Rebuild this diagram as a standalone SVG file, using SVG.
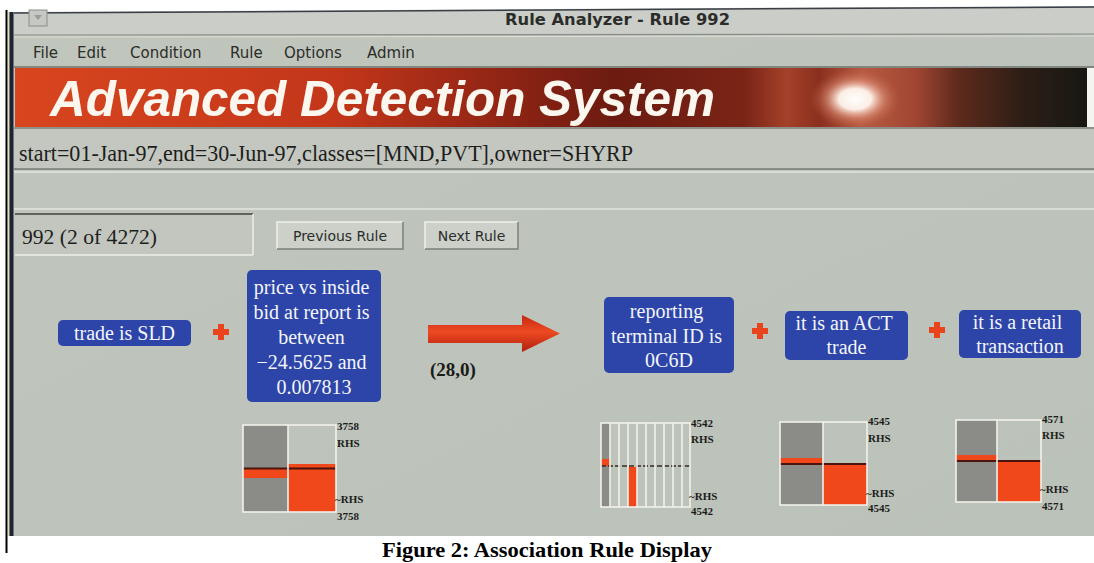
<svg xmlns="http://www.w3.org/2000/svg" width="1094" height="563" viewBox="0 0 1094 563">
  <defs>
    <style>
      .ui { font-family: "DejaVu Sans", "Liberation Sans", sans-serif; fill: #2b2d2a; }
      .cond { fill: #2d45a8; }
      .condText { font-family: "Liberation Serif", "Times New Roman", serif; font-size: 20px; fill: #f4f5fa; text-anchor: middle; }
      .lbl { font-family: "Liberation Serif", "Times New Roman", serif; font-size: 11px; font-weight: bold; fill: #1c1c1a; }
      .frame { fill: none; stroke: #f2f2ea; stroke-width: 1.6; }
      .gray { fill: #8b8c88; }
      .hit { fill: #f0481a; }
      .split { stroke: #4a140c; stroke-width: 2; }
      .plusSign { fill: #e9441c; }
    </style>
    <linearGradient id="bannerGrad" x1="0" y1="0" x2="1" y2="0">
      <stop offset="0" stop-color="#d8461f"/>
      <stop offset="0.3" stop-color="#c3361a"/>
      <stop offset="0.46" stop-color="#8e2414"/>
      <stop offset="0.56" stop-color="#6c1b11"/>
      <stop offset="0.68" stop-color="#7a2416"/>
      <stop offset="0.72" stop-color="#a4412a"/>
      <stop offset="0.75" stop-color="#8a2f1e"/>
      <stop offset="0.79" stop-color="#b85a42"/>
      <stop offset="0.84" stop-color="#a04632"/>
      <stop offset="0.88" stop-color="#5e2a1c"/>
      <stop offset="0.94" stop-color="#2c1e16"/>
      <stop offset="1" stop-color="#181712"/>
    </linearGradient>
    <radialGradient id="flare" cx="0.5" cy="0.5" r="0.5">
      <stop offset="0" stop-color="#ffffff"/>
      <stop offset="0.35" stop-color="#fff6ee" stop-opacity="0.95"/>
      <stop offset="0.65" stop-color="#e8a088" stop-opacity="0.45"/>
      <stop offset="1" stop-color="#c06040" stop-opacity="0"/>
    </radialGradient>
    <linearGradient id="arrowGrad" x1="0" y1="0" x2="0" y2="1">
      <stop offset="0" stop-color="#c42812"/>
      <stop offset="0.45" stop-color="#ee4a22"/>
      <stop offset="1" stop-color="#b0200e"/>
    </linearGradient>
    <linearGradient id="screenGrad" x1="0" y1="0" x2="1" y2="1">
      <stop offset="0" stop-color="#c1c6bd"/>
      <stop offset="1" stop-color="#bbc2b9"/>
    </linearGradient>
    <g id="plus">
      <rect x="-8" y="-3" width="16" height="6" class="plusSign"/>
      <rect x="-3" y="-8" width="6" height="16" class="plusSign"/>
    </g>
  </defs>

  <!-- paper -->
  <rect width="1094" height="563" fill="#ffffff"/>
  <line x1="6.5" y1="10" x2="6.5" y2="553" stroke="#000" stroke-width="2"/>

  <!-- screen photo -->
  <g id="screen">
    <polygon points="8,12 1094,6 1094,536 8,536" fill="url(#screenGrad)"/>
    <rect x="8" y="12" width="1.5" height="524" fill="#e6e2b8"/>
    <rect x="9.5" y="12" width="4" height="524" fill="#1e2438"/>

    <!-- title bar -->
    <polygon points="14,13 1094,7 1094,34 14,35" fill="#cbcec8"/>
    <line x1="14" y1="13" x2="1094" y2="7" stroke="#3a3e46" stroke-width="1.5"/>
    <rect x="29" y="10" width="18" height="16" fill="#c6c9c3" stroke="#8a8d88" stroke-width="1"/>
    <path d="M34 15 L42 15 L38 20 Z" fill="#9a9d98"/>
    <text x="505" y="25" class="ui" font-size="15" font-weight="bold" textLength="225" lengthAdjust="spacingAndGlyphs">Rule Analyzer - Rule 992</text>
    <line x1="14" y1="35" x2="1094" y2="34" stroke="#8a8e88" stroke-width="1.2"/>
    <line x1="14" y1="37" x2="1094" y2="36" stroke="#dcdfd8" stroke-width="1"/>

    <!-- menu bar -->
    <g id="menu" class="ui" font-size="15">
      <text x="33" y="58">File</text>
      <text x="77" y="58">Edit</text>
      <text x="130" y="58">Condition</text>
      <text x="230" y="58">Rule</text>
      <text x="284" y="58">Options</text>
      <text x="367" y="58">Admin</text>
    </g>
    <line x1="14" y1="67" x2="1094" y2="67" stroke="#6e726c" stroke-width="1.5"/>

    <!-- banner -->
    <g id="banner">
      <rect x="15" y="68" width="1072" height="59" fill="url(#bannerGrad)"/>
      <ellipse cx="855" cy="99" rx="46" ry="30" fill="url(#flare)"/>
      <rect x="1087" y="68" width="7" height="59" fill="#f4f4f0"/>
      <text x="50" y="116" font-family="Liberation Sans, Arial, sans-serif" font-weight="bold" font-style="italic" font-size="50" fill="#fbf7ef" textLength="665" lengthAdjust="spacingAndGlyphs">Advanced Detection System</text>
    </g>
    <line x1="14" y1="128" x2="1094" y2="128" stroke="#7c807a" stroke-width="1.5"/>

    <!-- query field -->
    <rect x="14" y="130" width="1080" height="39" fill="#c3c7bf"/>
    <text x="19" y="161" font-family="Liberation Serif, Times New Roman, serif" font-size="23" fill="#1e1e1c" textLength="614" lengthAdjust="spacingAndGlyphs">start=01-Jan-97,end=30-Jun-97,classes=[MND,PVT],owner=SHYRP</text>
    <line x1="14" y1="169" x2="1094" y2="169" stroke="#757a72" stroke-width="1.5"/>
    <line x1="14" y1="172" x2="1094" y2="172" stroke="#e2e4de" stroke-width="1.5"/>

    <!-- empty message field -->
    <line x1="14" y1="209" x2="1094" y2="209" stroke="#e2e4de" stroke-width="1.5"/>

    <!-- rule counter and navigation -->
    <g id="counter">
      <rect x="15" y="214" width="238" height="41" fill="#c2c6be"/>
      <line x1="15" y1="214" x2="253" y2="214" stroke="#5e625c" stroke-width="2"/>
      <line x1="15" y1="255" x2="253" y2="255" stroke="#eceee8" stroke-width="1.5"/>
      <line x1="253" y1="214" x2="253" y2="255" stroke="#eceee8" stroke-width="1.5"/>
      <text x="22" y="244" font-family="Liberation Serif, Times New Roman, serif" font-size="21" fill="#1e1e1c" textLength="135" lengthAdjust="spacingAndGlyphs">992 (2 of 4272)</text>
    </g>
    <g id="btn-previous">
      <rect x="277" y="222" width="126" height="27" fill="#ccd0c9"/>
      <path d="M277 249 V222 H403" fill="none" stroke="#eef0ea" stroke-width="1.5"/>
      <path d="M277 249 H403 V222" fill="none" stroke="#7c807a" stroke-width="1.5"/>
      <text x="340" y="241" class="ui" font-size="14" text-anchor="middle">Previous Rule</text>
    </g>
    <g id="btn-next">
      <rect x="425" y="222" width="93" height="27" fill="#ccd0c9"/>
      <path d="M425 249 V222 H518" fill="none" stroke="#eef0ea" stroke-width="1.5"/>
      <path d="M425 249 H518 V222" fill="none" stroke="#7c807a" stroke-width="1.5"/>
      <text x="471.5" y="241" class="ui" font-size="14" text-anchor="middle">Next Rule</text>
    </g>
  </g>

  <!-- left-hand side conditions -->
  <g id="cond-trade-sld">
    <rect x="58" y="320" width="133" height="26" rx="5" class="cond"/>
    <text x="124.5" y="340" class="condText" font-size="21">trade is SLD</text>
  </g>
  <g id="plus-1"><use href="#plus" x="221" y="332"/></g>
  <g id="cond-price-bid">
    <rect x="247" y="270" width="134" height="132" rx="5" class="cond"/>
    <text class="condText">
      <tspan x="314" y="294">price vs inside</tspan>
      <tspan x="314" y="319">bid at report is</tspan>
      <tspan x="314" y="344">between</tspan>
      <tspan x="314" y="369">−24.5625 and</tspan>
      <tspan x="314" y="394">0.007813</tspan>
    </text>
  </g>

  <!-- implication arrow with its counts -->
  <g id="connectors">
    <polygon points="428,325 522,325 522,315 560,333.5 522,352 522,343 428,343" fill="url(#arrowGrad)"/>
    <text x="430" y="376" font-family="Liberation Serif, Times New Roman, serif" font-size="19" font-weight="bold" fill="#1a1a18">(28,0)</text>
  </g>

  <!-- right-hand side conditions -->
  <g id="cond-terminal">
    <rect x="604" y="297" width="130" height="76" rx="5" class="cond"/>
    <text class="condText">
      <tspan x="669" y="318">reporting</tspan>
      <tspan x="669" y="343">terminal ID is</tspan>
      <tspan x="669" y="367">0C6D</tspan>
    </text>
  </g>
  <g id="plus-2"><use href="#plus" x="760" y="331"/></g>
  <g id="cond-act">
    <rect x="785" y="311" width="123" height="49" rx="5" class="cond"/>
    <text class="condText">
      <tspan x="846.5" y="330">it is an ACT</tspan>
      <tspan x="846.5" y="354">trade</tspan>
    </text>
  </g>
  <g id="plus-3"><use href="#plus" x="937" y="330"/></g>
  <g id="cond-retail">
    <rect x="959" y="310" width="122" height="48" rx="5" class="cond"/>
    <text class="condText">
      <tspan x="1020" y="329">it is a retail</tspan>
      <tspan x="1020" y="353">transaction</tspan>
    </text>
  </g>

  <!-- contingency charts -->
  <g id="chart-1">
    <rect x="243" y="425" width="45" height="87" class="gray"/>
    <rect x="288" y="464" width="48" height="48" class="hit"/>
    <rect x="243" y="468" width="45" height="10" class="hit"/>
    <line x1="243" y1="468.5" x2="336" y2="468.5" class="split"/>
    <rect x="243" y="425" width="93" height="87" class="frame"/>
    <line x1="288" y1="425" x2="288" y2="512" class="frame"/>
    <text x="337" y="430" class="lbl">3758</text>
    <text x="337" y="447" class="lbl">RHS</text>
    <text x="335" y="503" class="lbl">~RHS</text>
    <text x="337" y="520" class="lbl">3758</text>
  </g>

  <g id="chart-2">
    <rect x="601" y="423" width="9" height="84" class="gray"/>
    <rect x="601" y="459" width="9" height="7" class="hit"/>
    <rect x="628" y="467" width="9" height="40" class="hit"/>
    <line x1="601" y1="466" x2="690" y2="466" stroke="#3a2a22" stroke-width="1.5" stroke-dasharray="5,2"/>
    <rect x="601" y="423" width="89" height="84" class="frame"/>
    <g class="frame">
      <line x1="610" y1="423" x2="610" y2="507"/>
      <line x1="619" y1="423" x2="619" y2="507"/>
      <line x1="628" y1="423" x2="628" y2="507"/>
      <line x1="637" y1="423" x2="637" y2="507"/>
      <line x1="646" y1="423" x2="646" y2="507"/>
      <line x1="655" y1="423" x2="655" y2="507"/>
      <line x1="664" y1="423" x2="664" y2="507"/>
      <line x1="673" y1="423" x2="673" y2="507"/>
      <line x1="682" y1="423" x2="682" y2="507"/>
    </g>
    <text x="691" y="427" class="lbl">4542</text>
    <text x="691" y="443" class="lbl">RHS</text>
    <text x="689" y="500" class="lbl">~RHS</text>
    <text x="691" y="515" class="lbl">4542</text>
  </g>

  <g id="chart-3">
    <rect x="780" y="422" width="43" height="83" class="gray"/>
    <rect x="823" y="464" width="44" height="41" class="hit"/>
    <rect x="780" y="458" width="43" height="6" class="hit"/>
    <line x1="780" y1="464" x2="867" y2="464" class="split"/>
    <rect x="780" y="422" width="87" height="83" class="frame"/>
    <line x1="823" y1="422" x2="823" y2="505" class="frame"/>
    <text x="868" y="425" class="lbl">4545</text>
    <text x="868" y="442" class="lbl">RHS</text>
    <text x="866" y="497" class="lbl">~RHS</text>
    <text x="868" y="512" class="lbl">4545</text>
  </g>

  <g id="chart-4">
    <rect x="956" y="420" width="41" height="82" class="gray"/>
    <rect x="997" y="461" width="44" height="41" class="hit"/>
    <rect x="956" y="455" width="41" height="6" class="hit"/>
    <line x1="956" y1="461" x2="1041" y2="461" class="split"/>
    <rect x="956" y="420" width="85" height="82" class="frame"/>
    <line x1="997" y1="420" x2="997" y2="502" class="frame"/>
    <text x="1042" y="423" class="lbl">4571</text>
    <text x="1042" y="439" class="lbl">RHS</text>
    <text x="1040" y="493" class="lbl">~RHS</text>
    <text x="1042" y="510" class="lbl">4571</text>
  </g>

  <!-- caption -->
  <text x="547" y="557" text-anchor="middle" font-family="Liberation Serif, Times New Roman, serif" font-weight="bold" font-size="21" fill="#000" textLength="330" lengthAdjust="spacingAndGlyphs">Figure 2: Association Rule Display</text>
</svg>
